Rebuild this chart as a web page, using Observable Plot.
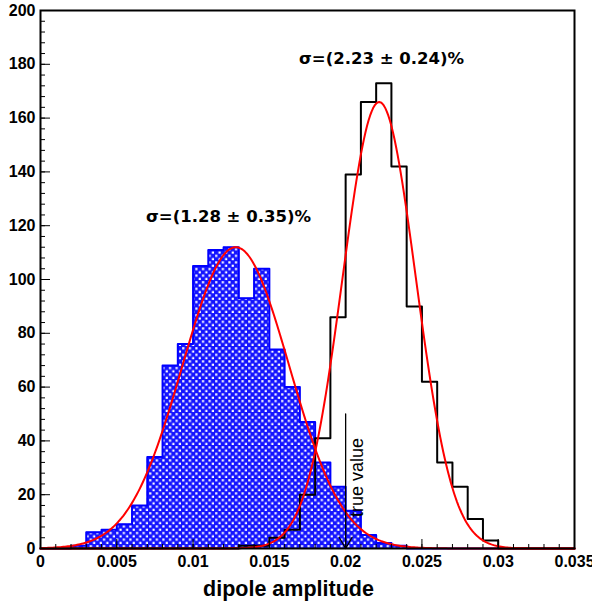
<!DOCTYPE html>
<html>
<head>
<meta charset="utf-8">
<script src="https://cdn.jsdelivr.net/npm/d3@7"></script>
<script src="https://cdn.jsdelivr.net/npm/@observablehq/plot@0.6"></script>
<style>
  html, body { margin: 0; padding: 0; background: #fff; }
  svg { overflow: visible; }
</style>
</head>
<body>
<div id="chart"></div>
<script>
// ---- data ----
const binWidth = 0.001;
// counts per bin, bin i covers [i*0.001, (i+1)*0.001]
const blueCounts = [0,0,1,6,7,9,16,34,68,76,105,111,112,93,104,74,60,47,32,23,14,5,2,1,0,0,0,0,0,0,0,0,0,0,0];
const blackCounts = [0,0,0,0,0,0,0,0,0,0,0,0,0,1,1,4,7,20,41,86,139,166,173,142,90,62,32,23,11,3,0,0,0,0,0];
// gaussian fit parameters (amplitude, mean, sigma)
const fitAmp = [112, 166];
const fitMean = [0.0128, 0.0222];
const fitSigma = [0.0035, 0.0024];
const fitLabels = ["σ=(1.28 ± 0.35)%", "σ=(2.23 ± 0.24)%"];
const xTicks = [0, 0.005, 0.01, 0.015, 0.02, 0.025, 0.03, 0.035];
const yTicks = [0, 20, 40, 60, 80, 100, 120, 140, 160, 180, 200];
const xMinor = d3.range(0, 36).map(i => i * 0.001);
const yMinor = d3.range(0, 51).map(i => i * 4);
const trueValue = 0.02;
const xTitle = "dipole amplitude";

// ---- derived tables ----
function outline(counts) {
  const pts = [{x: 0, y: 0}];
  counts.forEach((c, i) => pts.push({x: i * binWidth, y: c}));
  pts.push({x: counts.length * binWidth, y: counts[counts.length - 1]});
  pts.push({x: counts.length * binWidth, y: 0});
  return pts;
}
const blueOutline = outline(blueCounts);
const blackOutline = outline(blackCounts);
function fitCurve(k) {
  return d3.range(0, 351).map(i => {
    const x = i * 0.0001;
    return {x, y: fitAmp[k] * Math.exp(-((x - fitMean[k]) ** 2) / (2 * fitSigma[k] ** 2))};
  });
}
const fit0 = fitCurve(0), fit1 = fitCurve(1);

const font = "'Liberation Sans', Arial, sans-serif";

const defs = () => {
  const ns = "http://www.w3.org/2000/svg";
  const g = document.createElementNS(ns, "defs");
  g.innerHTML = `<pattern id="hatch" patternUnits="userSpaceOnUse" width="6.6" height="6.6">
      <rect width="6.6" height="6.6" fill="#1414ff"/>
      <rect x="0.65" y="0.65" width="2.2" height="2.2" fill="#fff"/>
      <rect x="3.95" y="3.95" width="2.2" height="2.2" fill="#fff"/>
    </pattern>`;
  return g;
};

const pxX = 0.035 / 534; // data units per pixel (x)
const pxY = 200 / 538;   // data units per pixel (y)

const plot = Plot.plot({
  width: 592,
  height: 606,
  marginLeft: 40,
  marginRight: 18,
  marginTop: 10,
  marginBottom: 58,
  style: {fontFamily: font, background: "#fff"},
  x: {domain: [0, 0.035]},
  y: {domain: [0, 200]},
  marks: [
    defs,
    // blue filled histogram
    Plot.areaY(blueOutline, {x: "x", y: "y", curve: "step-after", fill: "url(#hatch)"}),
    Plot.line(blueOutline, {x: "x", y: "y", curve: "step-after", stroke: "#0000ff", strokeWidth: 2}),
    // black histogram
    Plot.line(blackOutline, {x: "x", y: "y", curve: "step-after", stroke: "#000", strokeWidth: 2}),
    // fits
    Plot.line(fit0, {x: "x", y: "y", stroke: "#ff0000", strokeWidth: 2}),
    Plot.line(fit1, {x: "x", y: "y", stroke: "#ff0000", strokeWidth: 2}),
    // axis ticks (inward)
    Plot.ruleX(xMinor, {x: d => d, y1: 0, y2: 4 * pxY, stroke: "#000"}),
    Plot.ruleX(xTicks, {x: d => d, y1: 0, y2: 9 * pxY, stroke: "#000"}),
    Plot.ruleY(yMinor, {y: d => d, x1: 0, x2: 5 * pxX, stroke: "#000"}),
    Plot.ruleY(yTicks, {y: d => d, x1: 0, x2: 10 * pxX, stroke: "#000"}),
    Plot.frame({stroke: "#000", strokeWidth: 2}),
    Plot.axisX(xTicks, {tickSize: 0, tickPadding: 7, fontSize: 16, fontWeight: "bold", fill: "#000",
      tickFormat: d => String(+d.toFixed(3)), label: null}),
    Plot.axisY(yTicks, {tickSize: 0, tickPadding: 5, fontSize: 16, fontWeight: "bold", fill: "#000", label: null}),
    Plot.text([xTitle], {text: d => d, frameAnchor: "bottom", dx: -19, dy: 47, fontSize: 21.5, fontWeight: "bold", fill: "#000"}),
    // true value arrow
    Plot.arrow([trueValue], {x1: d => d, x2: d => d, y1: 50, y2: 0, stroke: "#000", strokeWidth: 1.3, headLength: 15, headAngle: 60}),
    Plot.text(["true value"], {x: 0.02078, y: 26.4, text: d => d, rotate: -90, fontSize: 18, fill: "#000"}),
    // fit labels
    Plot.text([0], {x: 0.01232, y: 123.4, text: d => fitLabels[d], fontSize: 16.5, fontWeight: "bold", fill: "#000", fontFamily: "'DejaVu Sans', sans-serif"}),
    Plot.text([1], {x: 0.02235, y: 182, text: d => fitLabels[d], fontSize: 16.5, fontWeight: "bold", fill: "#000", fontFamily: "'DejaVu Sans', sans-serif"})
  ]
});
document.getElementById("chart").appendChild(plot);
</script>
</body>
</html>
